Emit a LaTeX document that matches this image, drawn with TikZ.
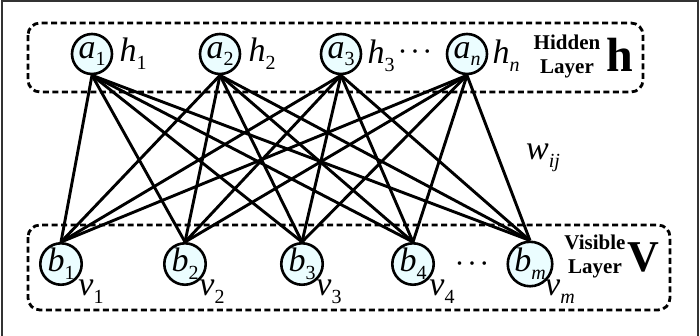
\documentclass[tikz,border=0pt]{standalone}
\usepackage{fontspec}
\setmainfont{Liberation Serif}
\newcommand\sbs[1]{\raisebox{-0.5ex}{\fontsize{20}{20}\selectfont #1}}
\newcommand\vr[2]{{\itshape #1}\sbs{#2}}
\newcommand\tdots{\fontsize{30}{30}\selectfont ·\hspace{2.5pt}·\hspace{2.5pt}·}
\begin{document}
\begin{tikzpicture}[x=1pt,y=-1pt,
  unit/.style={circle,draw=black,line width=2.6pt,fill=blue!10!cyan!8!white,minimum size=40pt,inner sep=0pt,font=\fontsize{34}{34}\selectfont},
  lbl/.style={inner sep=0pt,font=\fontsize{34}{34}\selectfont},
  layerbox/.style={draw=black,line width=2.8pt,dash pattern=on 6pt off 3.5pt,rounded corners=12pt},
  layertext/.style={align=center,inner sep=0pt,font=\bfseries\fontsize{21}{24}\selectfont},
  edge/.style={line width=2.9pt,black}]
\useasboundingbox (0,0) rectangle (700,335);
\fill[white] (0,0) rectangle (700,335);
\draw[line width=1.5pt,black!80] (2,336) -- (2,1) -- (698,1) -- (698,336);
% layer boxes
\draw[layerbox] (28,23) rectangle (643,92);
\draw[layerbox] (28,225) rectangle (670,310);
% hidden units
\node[unit] (a1) at (92,54) {\vr{a}{1}};
\node[unit] (a2) at (220,54) {\vr{a}{2}};
\node[unit] (a3) at (341,54) {\vr{a}{3}};
\node[unit] (an) at (467,54) {\vr{a}{\itshape n}};
% visible units
\node[unit] (b1) at (61,264) {\vr{b}{1}};
\node[unit] (b2) at (185,264) {\vr{b}{2}};
\node[unit] (b3) at (302,264) {\vr{b}{3}};
\node[unit] (b4) at (413,264) {\vr{b}{4}};
\node[unit] (bm) at (530,264) {\vr{b}{\itshape m}};
% edges
\foreach \a in {a1,a2,a3,an}{
  \foreach \b in {b1,b2,b3,b4,bm}{
    \draw[edge] (\a.south) -- (\b.north);
  }
}
% hidden labels
\node[lbl] (h1) at (133,54) {\vr{h}{1}};
\node[lbl] (h2) at (262,54) {\vr{h}{2}};
\node[lbl] (h3) at (381,56) {\vr{h}{3}};
\node[inner sep=0pt] (hd) at (415,56) {\tdots};
\node[lbl] (hn) at (506,56) {\vr{h}{\itshape n}};
\node[layertext] (hl) at (567,56) {Hidden\\Layer};
\node[inner sep=0pt,font=\bfseries\fontsize{48}{48}\selectfont] (hh) at (620,55) {h};
% visible labels
\node[lbl] (v1) at (91,292) {\vr{v}{1}};
\node[lbl] (v2) at (212,292) {\vr{v}{2}};
\node[lbl] (v3) at (329,292) {\vr{v}{3}};
\node[lbl] (v4) at (442,292) {\vr{v}{4}};
\node[lbl] (vm) at (560,292) {\vr{v}{\itshape m}};
\node[inner sep=0pt] (vd) at (472,268) {\tdots};
\node[layertext] (vl) at (595,256) {Visible\\Layer};
\node[inner sep=0pt,font=\bfseries\fontsize{44}{44}\selectfont] (vv) at (643,257) {V};
% weight label
\node[lbl] (w) at (543,158) {\vr{w}{\itshape ij}};
\end{tikzpicture}
\end{document}
